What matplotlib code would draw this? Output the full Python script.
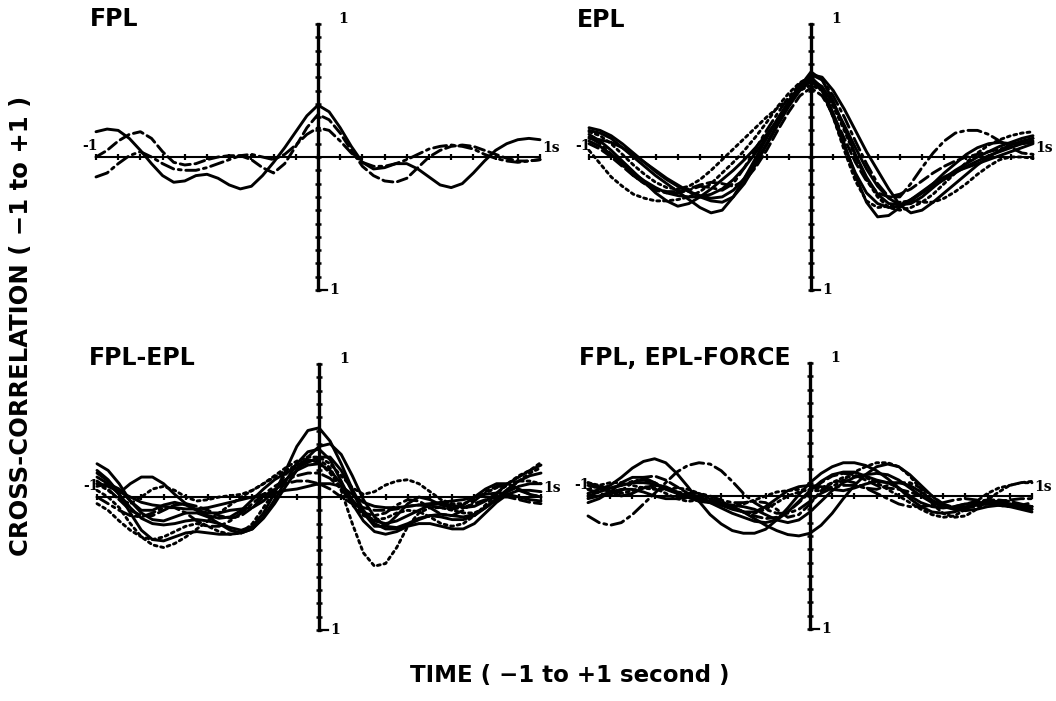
import matplotlib.pyplot as plt
import numpy as np

# lag axis shared by every trace (-1 s .. +1 s, 0.05 s steps)
lag = np.linspace(-1.0, 1.0, 41)

# ---- FPL ----
fpl_solid = [0.19, 0.21, 0.20, 0.14, 0.05, -0.05, -0.14, -0.19, -0.18, -0.14, -0.13, -0.16, -0.21, -0.24,
             -0.22, -0.14, -0.04, 0.07, 0.19, 0.31, 0.39, 0.34, 0.22, 0.08, -0.04, -0.09, -0.08, -0.05,
             -0.05, -0.09, -0.15, -0.21, -0.23, -0.20, -0.12, -0.03, 0.05, 0.10, 0.13, 0.14, 0.13]
fpl_dash = [0.00, 0.05, 0.12, 0.17, 0.19, 0.14, 0.04, -0.04, -0.06, -0.05, -0.02, 0.00, 0.01, 0.01,
            -0.02, -0.08, -0.12, -0.05, 0.08, 0.22, 0.32, 0.28, 0.18, 0.05, -0.07, -0.14, -0.18, -0.19,
            -0.16, -0.08, 0.00, 0.05, 0.08, 0.09, 0.08, 0.05, 0.02, -0.01, -0.03, -0.03, -0.02]
fpl_dashdot = [-0.15, -0.12, -0.05, 0.01, 0.04, 0.00, -0.05, -0.09, -0.10, -0.10, -0.08, -0.05, -0.02, 0.01,
               0.02, 0.00, -0.02, 0.02, 0.09, 0.17, 0.22, 0.20, 0.12, 0.03, -0.04, -0.07, -0.07, -0.05,
               -0.02, 0.02, 0.06, 0.08, 0.09, 0.08, 0.06, 0.02, -0.01, -0.03, -0.04, -0.03, -0.02]

# ---- EPL ----
epl_a = [0.20, 0.18, 0.14, 0.07, 0.00, -0.07, -0.14, -0.20, -0.26, -0.32, -0.38, -0.42, -0.40, -0.30,
         -0.16, -0.01, 0.14, 0.29, 0.42, 0.54, 0.60, 0.52, 0.33, 0.10, -0.14, -0.34, -0.45, -0.44,
         -0.38, -0.32, -0.27, -0.22, -0.17, -0.12, -0.07, -0.03, 0.01, 0.04, 0.07, 0.10, 0.12]
epl_b = [0.17, 0.12, 0.05, -0.03, -0.11, -0.19, -0.27, -0.33, -0.37, -0.35, -0.30, -0.24, -0.17, -0.10,
         -0.02, 0.07, 0.17, 0.28, 0.40, 0.52, 0.58, 0.53, 0.40, 0.24, 0.07, -0.09, -0.22, -0.31,
         -0.36, -0.35, -0.30, -0.23, -0.16, -0.10, -0.05, 0.00, 0.04, 0.08, 0.11, 0.14, 0.16]
epl_c = [0.05, -0.05, -0.15, -0.22, -0.28, -0.31, -0.33, -0.33, -0.32, -0.30, -0.26, -0.20, -0.12, -0.04,
         0.05, 0.15, 0.26, 0.38, 0.48, 0.56, 0.60, 0.50, 0.30, 0.05, -0.18, -0.33, -0.38, -0.37,
         -0.34, -0.33, -0.34, -0.34, -0.31, -0.26, -0.20, -0.13, -0.07, -0.02, 0.00, 0.00, -0.01]
epl_d = [0.15, 0.10, 0.02, -0.06, -0.14, -0.20, -0.25, -0.27, -0.27, -0.25, -0.22, -0.23, -0.25, -0.20,
         -0.08, 0.06, 0.20, 0.33, 0.45, 0.55, 0.62, 0.58, 0.46, 0.30, 0.12, -0.05, -0.20, -0.30,
         -0.30, -0.20, -0.08, 0.03, 0.12, 0.18, 0.20, 0.20, 0.17, 0.12, 0.07, 0.03, 0.02]
epl_e = [0.12, 0.08, 0.02, -0.05, -0.12, -0.18, -0.23, -0.27, -0.29, -0.30, -0.30, -0.28, -0.24, -0.17,
         -0.08, 0.03, 0.15, 0.28, 0.41, 0.53, 0.64, 0.58, 0.42, 0.22, 0.02, -0.15, -0.28, -0.35,
         -0.36, -0.32, -0.26, -0.20, -0.15, -0.11, -0.08, -0.05, -0.02, 0.01, 0.04, 0.07, 0.10]
epl_f = [0.22, 0.20, 0.16, 0.10, 0.03, -0.04, -0.11, -0.17, -0.22, -0.26, -0.29, -0.31, -0.30, -0.25,
         -0.16, -0.04, 0.10, 0.25, 0.40, 0.53, 0.62, 0.60, 0.50, 0.36, 0.20, 0.04, -0.10, -0.24,
         -0.36, -0.42, -0.40, -0.34, -0.27, -0.20, -0.13, -0.06, 0.00, 0.05, 0.09, 0.12, 0.14]
epl_g = [0.10, 0.06, 0.00, -0.07, -0.14, -0.20, -0.24, -0.26, -0.26, -0.24, -0.21, -0.19, -0.20, -0.22,
         -0.18, -0.08, 0.05, 0.20, 0.34, 0.46, 0.52, 0.46, 0.32, 0.14, -0.04, -0.18, -0.27, -0.30,
         -0.28, -0.24, -0.18, -0.12, -0.07, -0.03, 0.00, 0.02, 0.04, 0.06, 0.08, 0.11, 0.14]
epl_h = [0.19, 0.16, 0.10, 0.02, -0.06, -0.13, -0.19, -0.23, -0.24, -0.22, -0.17, -0.10, -0.02, 0.06,
         0.14, 0.22, 0.30, 0.37, 0.44, 0.50, 0.54, 0.50, 0.38, 0.20, 0.00, -0.17, -0.30, -0.38,
         -0.40, -0.38, -0.34, -0.28, -0.20, -0.12, -0.04, 0.03, 0.09, 0.13, 0.16, 0.18, 0.19]
epl_i = [0.14, 0.13, 0.11, 0.07, 0.02, -0.04, -0.10, -0.16, -0.21, -0.26, -0.30, -0.33, -0.34, -0.30,
         -0.20, -0.06, 0.09, 0.24, 0.38, 0.50, 0.57, 0.50, 0.30, 0.08, -0.12, -0.27, -0.35, -0.38,
         -0.37, -0.33, -0.27, -0.20, -0.12, -0.05, 0.02, 0.07, 0.10, 0.11, 0.10, 0.10, 0.11]

# ---- FPL-EPL ----
fe_a = [0.15, 0.10, 0.02, -0.08, -0.16, -0.20, -0.21, -0.20, -0.18, -0.17, -0.18, -0.20, -0.23, -0.25,
        -0.22, -0.12, 0.03, 0.20, 0.38, 0.50, 0.52, 0.42, 0.25, 0.06, -0.10, -0.20, -0.24, -0.24,
        -0.21, -0.17, -0.14, -0.13, -0.14, -0.15, -0.13, -0.08, -0.02, 0.04, 0.08, 0.10, 0.10]
fe_b = [0.05, 0.00, -0.08, -0.20, -0.30, -0.36, -0.38, -0.35, -0.30, -0.24, -0.18, -0.12, -0.06, 0.00,
        0.05, 0.10, 0.15, 0.20, 0.24, 0.27, 0.28, 0.22, 0.05, -0.20, -0.42, -0.52, -0.50, -0.38,
        -0.22, -0.12, -0.08, -0.08, -0.10, -0.12, -0.12, -0.08, -0.02, 0.05, 0.12, 0.18, 0.22]
fe_c = [0.10, 0.05, -0.02, -0.05, 0.00, 0.06, 0.08, 0.05, 0.00, -0.03, -0.02, 0.00, 0.01, 0.02,
        0.05, 0.10, 0.16, 0.22, 0.27, 0.30, 0.30, 0.25, 0.16, 0.07, 0.02, 0.04, 0.09, 0.12,
        0.13, 0.10, 0.04, -0.02, -0.05, -0.05, -0.02, 0.03, 0.07, 0.10, 0.12, 0.12, 0.10]
fe_d = [0.20, 0.13, 0.03, 0.10, 0.15, 0.15, 0.10, 0.02, -0.05, -0.10, -0.12, -0.12, -0.10, -0.09,
        -0.08, -0.03, 0.05, 0.13, 0.20, 0.24, 0.25, 0.20, 0.10, -0.02, -0.12, -0.18, -0.20, -0.18,
        -0.14, -0.10, -0.06, -0.05, -0.06, -0.08, -0.07, -0.03, 0.03, 0.10, 0.15, 0.20, 0.24]
fe_e = [0.18, 0.12, 0.02, -0.12, -0.25, -0.32, -0.33, -0.30, -0.27, -0.26, -0.27, -0.28, -0.28, -0.27,
        -0.24, -0.15, -0.02, 0.12, 0.25, 0.34, 0.36, 0.28, 0.12, -0.05, -0.18, -0.26, -0.28, -0.26,
        -0.22, -0.20, -0.20, -0.22, -0.24, -0.24, -0.20, -0.12, -0.04, 0.02, 0.05, 0.05, 0.04]
fe_f = [0.12, 0.06, -0.02, -0.10, -0.14, -0.14, -0.10, -0.06, -0.05, -0.07, -0.10, -0.14, -0.16, -0.14,
        -0.08, 0.00, 0.06, 0.10, 0.12, 0.12, 0.10, 0.06, 0.00, -0.05, -0.08, -0.10, -0.10, -0.09,
        -0.07, -0.06, -0.07, -0.08, -0.09, -0.08, -0.05, -0.02, 0.00, 0.00, -0.02, -0.04, -0.05]
fe_g = [0.08, 0.10, 0.06, -0.03, -0.12, -0.17, -0.18, -0.15, -0.12, -0.12, -0.15, -0.20, -0.25, -0.27,
        -0.24, -0.16, -0.05, 0.08, 0.20, 0.30, 0.38, 0.40, 0.32, 0.16, -0.02, -0.15, -0.22, -0.23,
        -0.20, -0.16, -0.14, -0.15, -0.17, -0.17, -0.14, -0.08, -0.01, 0.06, 0.12, 0.16, 0.18]
fe_h = [0.00, -0.05, -0.10, -0.14, -0.15, -0.12, -0.08, -0.08, -0.12, -0.18, -0.22, -0.22, -0.18, -0.12,
        -0.05, 0.02, 0.08, 0.13, 0.16, 0.18, 0.18, 0.14, 0.06, -0.04, -0.12, -0.14, -0.12, -0.06,
        -0.02, -0.03, -0.08, -0.13, -0.14, -0.10, -0.03, 0.04, 0.08, 0.08, 0.05, 0.02, 0.00]
fe_i = [0.25, 0.20, 0.10, -0.03, -0.10, -0.10, -0.06, -0.04, -0.06, -0.10, -0.14, -0.16, -0.15, -0.10,
        -0.02, 0.06, 0.13, 0.18, 0.22, 0.26, 0.30, 0.30, 0.20, 0.04, -0.12, -0.22, -0.22, -0.14,
        -0.05, 0.00, -0.02, -0.06, -0.08, -0.06, 0.00, 0.06, 0.10, 0.10, 0.06, 0.02, 0.00]
fe_j = [-0.05, -0.10, -0.18, -0.25, -0.30, -0.32, -0.30, -0.26, -0.22, -0.20, -0.22, -0.26, -0.28, -0.27,
        -0.20, -0.08, 0.05, 0.17, 0.25, 0.28, 0.26, 0.18, 0.06, -0.06, -0.14, -0.17, -0.16, -0.12,
        -0.10, -0.11, -0.15, -0.20, -0.22, -0.20, -0.14, -0.06, 0.02, 0.10, 0.16, 0.20, 0.26]
fe_k = [0.10, 0.08, 0.04, 0.00, -0.04, -0.06, -0.07, -0.08, -0.09, -0.09, -0.08, -0.06, -0.04, -0.02,
        0.00, 0.02, 0.03, 0.05, 0.06, 0.08, 0.10, 0.10, 0.08, 0.02, -0.04, -0.07, -0.08, -0.08,
        -0.07, -0.06, -0.05, -0.04, -0.03, -0.02, 0.00, 0.02, 0.03, 0.02, 0.00, -0.02, -0.03]

# ---- FPL, EPL-FORCE ----
ff_a = [0.02, 0.05, 0.08, 0.14, 0.21, 0.26, 0.28, 0.25, 0.17, 0.07, -0.04, -0.14, -0.21, -0.26,
        -0.28, -0.28, -0.25, -0.18, -0.09, 0.01, 0.10, 0.17, 0.22, 0.25, 0.25, 0.23, 0.19, 0.13,
        0.06, -0.02, -0.08, -0.12, -0.13, -0.12, -0.09, -0.06, -0.05, -0.05, -0.06, -0.07, -0.08]
ff_b = [-0.15, -0.20, -0.22, -0.20, -0.14, -0.06, 0.02, 0.10, 0.18, 0.23, 0.25, 0.24, 0.19, 0.11,
        0.02, -0.05, -0.10, -0.13, -0.13, -0.10, -0.04, 0.02, 0.06, 0.08, 0.08, 0.06, 0.02, -0.02,
        -0.06, -0.08, -0.08, -0.07, -0.05, -0.03, -0.02, -0.03, -0.05, -0.07, -0.08, -0.07, -0.05]
ff_c = [0.05, 0.08, 0.10, 0.10, 0.08, 0.06, 0.05, 0.05, 0.06, 0.05, 0.02, -0.02, -0.05, -0.07,
        -0.06, -0.03, 0.00, 0.03, 0.04, 0.05, 0.04, 0.04, 0.07, 0.12, 0.18, 0.22, 0.25, 0.25,
        0.22, 0.15, 0.05, -0.06, -0.13, -0.16, -0.15, -0.10, -0.03, 0.03, 0.08, 0.10, 0.10]
ff_d = [0.08, 0.06, 0.03, 0.00, 0.02, 0.06, 0.08, 0.07, 0.03, -0.01, -0.04, -0.05, -0.06, -0.08,
        -0.12, -0.17, -0.22, -0.26, -0.29, -0.30, -0.28, -0.22, -0.13, -0.02, 0.08, 0.16, 0.22, 0.24,
        0.22, 0.16, 0.08, 0.00, -0.07, -0.10, -0.11, -0.10, -0.08, -0.07, -0.08, -0.10, -0.12]
ff_e = [0.05, 0.02, 0.00, 0.04, 0.10, 0.14, 0.15, 0.12, 0.07, 0.02, -0.01, -0.03, -0.05, -0.08,
        -0.12, -0.15, -0.17, -0.16, -0.12, -0.05, 0.03, 0.10, 0.15, 0.17, 0.16, 0.12, 0.08, 0.06,
        0.05, 0.03, 0.00, -0.04, -0.07, -0.08, -0.06, -0.04, -0.03, -0.03, -0.04, -0.06, -0.08]
ff_f = [0.00, 0.03, 0.06, 0.08, 0.10, 0.10, 0.09, 0.06, 0.03, 0.00, -0.02, -0.05, -0.09, -0.13,
        -0.16, -0.19, -0.20, -0.18, -0.12, -0.04, 0.04, 0.11, 0.16, 0.18, 0.18, 0.15, 0.12, 0.10,
        0.10, 0.08, 0.03, -0.03, -0.08, -0.10, -0.09, -0.06, -0.04, -0.04, -0.06, -0.08, -0.08]
ff_g = [0.10, 0.08, 0.04, 0.02, 0.04, 0.07, 0.06, 0.02, -0.02, -0.04, -0.03, -0.02, -0.04, -0.08,
        -0.12, -0.13, -0.10, -0.05, 0.00, 0.03, 0.05, 0.06, 0.10, 0.14, 0.15, 0.14, 0.10, 0.05,
        0.00, -0.05, -0.10, -0.14, -0.16, -0.15, -0.10, -0.04, 0.02, 0.06, 0.08, 0.10, 0.11]
ff_h = [-0.05, -0.02, 0.03, 0.10, 0.14, 0.14, 0.10, 0.05, 0.02, 0.00, -0.02, -0.04, -0.06, -0.07,
        -0.08, -0.10, -0.14, -0.18, -0.20, -0.18, -0.12, -0.04, 0.04, 0.10, 0.14, 0.16, 0.17, 0.16,
        0.12, 0.06, 0.00, -0.05, -0.08, -0.09, -0.08, -0.07, -0.06, -0.06, -0.07, -0.09, -0.10]
ff_i = [0.10, 0.07, 0.06, 0.08, 0.11, 0.12, 0.10, 0.06, 0.03, 0.02, 0.02, 0.00, -0.03, -0.05,
        -0.05, -0.04, -0.05, -0.10, -0.16, -0.14, -0.06, 0.04, 0.10, 0.12, 0.10, 0.06, 0.05, 0.08,
        0.10, 0.10, 0.06, 0.00, -0.06, -0.09, -0.09, -0.08, -0.06, -0.04, -0.03, -0.02, -0.02]
ff_j = [-0.02, 0.00, 0.03, 0.05, 0.05, 0.03, 0.00, -0.02, -0.02, -0.01, -0.02, -0.04, -0.07, -0.10,
        -0.12, -0.12, -0.08, -0.02, 0.04, 0.07, 0.08, 0.07, 0.05, 0.04, 0.06, 0.09, 0.11, 0.10,
        0.06, 0.00, -0.05, -0.08, -0.09, -0.08, -0.06, -0.05, -0.05, -0.06, -0.07, -0.08, -0.10]

titles = ["FPL", "EPL", "FPL-EPL", "FPL, EPL-FORCE"]
panel_curves = [
    [fpl_solid, fpl_dash, fpl_dashdot],
    [epl_a, epl_b, epl_c, epl_d, epl_e, epl_f, epl_g, epl_h, epl_i],
    [fe_a, fe_b, fe_c, fe_d, fe_e, fe_f, fe_g, fe_h, fe_i, fe_j, fe_k],
    [ff_a, ff_b, ff_c, ff_d, ff_e, ff_f, ff_g, ff_h, ff_i, ff_j],
]
panel_styles = [
    ["solid", "dash", "dashdot"],
    ["solid", "solid", "dot", "dashdot", "solid", "solid", "dash", "dot", "solid"],
    ["solid", "dot", "dot", "solid", "solid", "dash", "solid", "dashdot", "solid", "dot", "solid"],
    ["solid", "dashdot", "dot", "solid", "dash", "solid", "dot", "solid", "dashdot", "solid"],
]

LINE = {
    "solid": "-",
    "dash": (0, (3.5, 1.6)),
    "dashdot": (0, (4.5, 1.6, 1, 1.6)),
    "dot": (0, (1, 1.3)),
}

W, H = 1056, 701
SMALL = dict(family="DejaVu Serif", fontweight="bold", fontsize=10, color="black", zorder=1)
BIG = dict(family="DejaVu Sans", fontweight="bold", color="black")


def draw_panel(ax, curves, styles):
    ax.set_xlim(-1, 1)
    ax.set_ylim(-1, 1)
    ax.axis("off")

    # cross-shaped axes with 0.1 ticks
    ax.plot([-1, 1], [0, 0], color="black", lw=1.5, zorder=1, clip_on=False)
    ax.plot([0, 0], [-1, 1], color="black", lw=2.4, zorder=1, clip_on=False)
    ticks = np.round(np.arange(-1, 1.001, 0.1), 1)
    ax.plot(ticks, np.zeros_like(ticks), ls="none", marker="|", ms=4.5, mew=1.6,
            color="black", zorder=1, clip_on=False)
    ax.plot(np.zeros_like(ticks), ticks, ls="none", marker="_", ms=4.5, mew=1.8,
            color="black", zorder=1, clip_on=False)
    ax.plot([0, 0.04], [-1, -1], color="black", lw=1.6, zorder=1, clip_on=False)

    ax.text(0.09, 1.04, "1", ha="left", va="center", **SMALL)
    ax.text(0.05, -1.0, "1", ha="left", va="center", **SMALL)
    ax.text(-0.99, 0.08, "-1", ha="right", va="center", **SMALL)
    ax.text(1.01, 0.07, "1s", ha="left", va="center", **SMALL)

    for y, st in zip(curves, styles):
        ax.plot(lag, y, color="black", lw=2.1, linestyle=LINE[st], zorder=2,
                clip_on=False, dash_capstyle="round", solid_capstyle="round",
                solid_joinstyle="round")


fig = plt.figure(figsize=(W / 100, H / 100), dpi=100)

centers = [(318, 157), (811, 157), (319, 497), (810, 496)]
title_pos = [(90, 26), (577, 27), (89, 365), (579, 365)]
for (cx, cy), (tx, ty), title, curves, styles in zip(
    centers, title_pos, titles, panel_curves, panel_styles
):
    ax = fig.add_axes([(cx - 222) / W, 1 - (cy + 133) / H, 444 / W, 266 / H])
    draw_panel(ax, curves, styles)
    fig.text(tx / W, 1 - ty / H, title, ha="left", va="baseline", fontsize=17, **BIG)

fig.text(21 / W, 1 - 326 / H, "CROSS-CORRELATION ( \u22121 to +1 )", rotation=90,
         ha="center", va="center", fontsize=17.5, **BIG)
fig.text(570 / W, 1 - 682 / H, "TIME ( \u22121 to +1 second )", ha="center",
         va="baseline", fontsize=16.5, **BIG)

fig.savefig("out.png", dpi=100)
